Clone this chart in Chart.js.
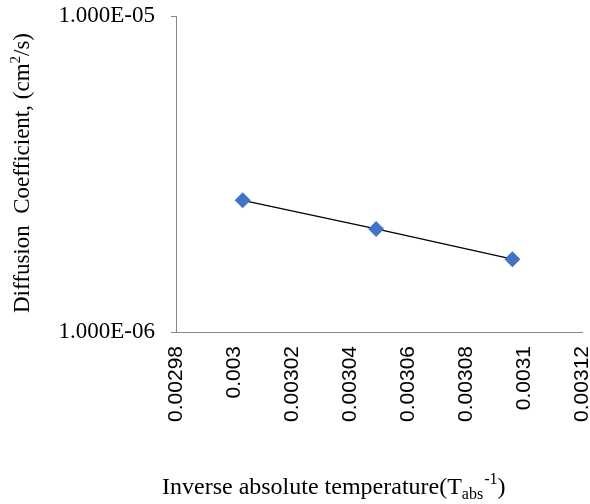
<!DOCTYPE html>
<html>
<head>
<meta charset="utf-8">
<script src="https://cdn.jsdelivr.net/npm/chart.js@4/dist/chart.umd.min.js"></script>
<style>
  html, body { margin: 0; padding: 0; background: #fff; }
  #wrap { width: 590px; height: 504px; }
</style>
</head>
<body>
<div id="wrap"><canvas id="diffChart"></canvas></div>
<script>
// inverse temperature (1/K) and measured diffusion coefficient (cm2/s)
const invTemp = [0.003003, 0.003049, 0.003096];
const diffCoef = [2.61e-6, 2.12e-6, 1.70e-6];

const xTickValues = [0.00298, 0.003, 0.00302, 0.00304, 0.00306, 0.00308, 0.0031, 0.00312];
const yTickValues = [1e-6, 1e-5];

const serif = '"Liberation Serif", "Times New Roman", serif';
const sans = '"Liberation Sans", Arial, sans-serif';

function sciLabel(v) {
    // 1.000E-06 style like excel
    const parts = v.toExponential(3).toUpperCase().split('E');
    let exp = parseInt(parts[1]);
    const sign = exp < 0 ? '-' : '+';
    exp = Math.abs(exp);
    return parts[0] + 'E' + sign + (exp < 10 ? '0' + exp : exp);
}

function noScalePadding(scale) {
    scale.paddingTop = 0;
    scale.paddingBottom = 0;
    scale.paddingLeft = 0;
    scale.paddingRight = 0;
}

// axis titles drawn by hand because of the sub / superscripts
const titlePlugin = {
    id: 'axisTitles',
    afterDraw(chart) {
        const ctx = chart.ctx;
        ctx.save();
        ctx.fillStyle = '#000';
        ctx.textBaseline = 'alphabetic';

        // y title
        let big = '23px ' + serif;
        let small = '15px ' + serif;
        const p1 = 'Diffusion  Coefficient, (cm';
        const p2 = '2';
        const p3 = '/s)';
        ctx.font = big;
        const w1 = ctx.measureText(p1).width;
        const w3 = ctx.measureText(p3).width;
        ctx.font = small;
        const w2 = ctx.measureText(p2).width;
        const total = w1 + w2 + w3;
        ctx.translate(29, 173);
        ctx.rotate(-Math.PI / 2);
        let x = -total / 2;
        ctx.font = big;
        ctx.fillText(p1, x, 0);
        x += w1;
        ctx.font = small;
        ctx.fillText(p2, x, -9);
        x += w2;
        ctx.font = big;
        ctx.fillText(p3, x, 0);
        ctx.setTransform(1, 0, 0, 1, 0, 0);

        // x title
        big = '24px ' + serif;
        small = '16px ' + serif;
        const q1 = 'Inverse absolute temperature(T';
        const q2 = 'abs';
        const q3 = '-1';
        const q4 = ')';
        let xx = 162;
        const base = 494;
        ctx.font = big;
        ctx.fillText(q1, xx, base);
        xx += ctx.measureText(q1).width;
        ctx.font = small;
        ctx.fillText(q2, xx, base + 5);
        xx += ctx.measureText(q2).width + 1;
        ctx.fillText(q3, xx, base - 10);
        xx += ctx.measureText(q3).width;
        ctx.font = big;
        ctx.fillText(q4, xx, base);
        ctx.restore();
    }
};

const ctx = document.getElementById('diffChart').getContext('2d');
new Chart(ctx, {
    type: 'scatter',
    data: {
        datasets: [{
            label: 'trend',
            data: invTemp.map((t, i) => ({ x: t, y: diffCoef[i] })),
            showLine: true,
            borderColor: '#000',
            borderWidth: 1.3,
            pointRadius: 0,
            order: 2
        }, {
            label: 'Diffusion Coefficient',
            data: invTemp.map((t, i) => ({ x: t, y: diffCoef[i] })),
            showLine: false,
            pointStyle: 'rectRot',
            pointRadius: 8,
            pointBackgroundColor: '#4472C4',
            pointBorderColor: '#4472C4',
            pointBorderWidth: 0,
            order: 1
        }]
    },
    options: {
        responsive: true,
        maintainAspectRatio: false,
        animation: false,
        layout: { autoPadding: false, padding: { top: 16, right: 8, left: 0, bottom: 0 } },
        plugins: {
            legend: { display: false },
            tooltip: { enabled: false }
        },
        scales: {
            x: {
                type: 'linear',
                min: 0.00298,
                max: 0.00312,
                afterBuildTicks(scale) {
                    scale.ticks = xTickValues.map(v => ({ value: v }));
                },
                afterFit(scale) {
                    scale.height = 172;
                    noScalePadding(scale);
                },
                border: { color: '#868686', width: 1 },
                grid: { display: true, drawOnChartArea: false, drawTicks: false },
                ticks: {
                    minRotation: 90,
                    maxRotation: 90,
                    padding: 14,
                    color: '#000',
                    font: { family: sans, size: 21 },
                    callback: v => String(+Number(v).toPrecision(6))
                }
            },
            y: {
                type: 'logarithmic',
                min: 1e-6,
                max: 1e-5,
                afterBuildTicks(scale) {
                    scale.ticks = yTickValues.map(v => ({ value: v, major: true }));
                },
                afterFit(scale) {
                    scale.width = 176;
                    noScalePadding(scale);
                },
                border: { color: '#868686', width: 1 },
                grid: { display: true, drawOnChartArea: false, tickLength: 5, color: '#868686' },
                ticks: {
                    padding: 16,
                    color: '#000',
                    font: { family: serif, size: 23 },
                    callback: v => sciLabel(v)
                }
            }
        }
    },
    plugins: [titlePlugin]
});
</script>
</body>
</html>
